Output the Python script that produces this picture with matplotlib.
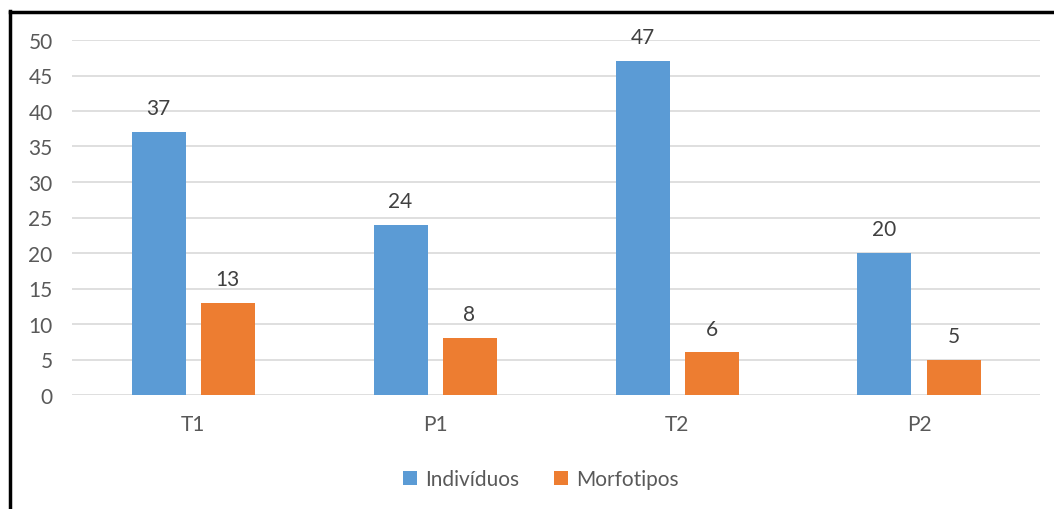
import matplotlib
matplotlib.use("Agg")
import matplotlib.pyplot as plt
from matplotlib.lines import Line2D
import numpy as np

categories = ["T1", "P1", "T2", "P2"]
individuos = [37, 24, 47, 20]
morfotipos = [13, 8, 6, 5]
series_names = ["Indivíduos", "Morfotipos"]
yticks = [0, 5, 10, 15, 20, 25, 30, 35, 40, 45, 50]

plt.rcParams['font.family'] = ['Lato', 'DejaVu Sans']
W, H = 1054, 510
fig = plt.figure(figsize=(W/100, H/100), dpi=100)
ax = fig.add_axes([72/W, 1-396/H, (1040-72)/W, (396-41)/H])

x = np.arange(len(categories))
bw = 54/242
gap = 15/242
blue = "#5B9BD5"
orange = "#ED7D31"
txt = "#595959"
fs = 15
b1 = ax.bar(x - (bw+gap)/2, individuos, bw, color=blue, label=series_names[0], zorder=3)
b2 = ax.bar(x + (bw+gap)/2, morfotipos, bw, color=orange, label=series_names[1], zorder=3)
for bars in (b1, b2):
    ax.bar_label(bars, padding=10, fontsize=fs, color="#404040")

ax.set_xlim(-0.5, 3.5)
ax.set_ylim(0, 50)
ax.set_yticks(yticks)
ax.set_xticks(x)
ax.set_xticklabels(categories)
ax.tick_params(axis='both', length=0, labelsize=fs, labelcolor=txt)
ax.tick_params(axis='y', pad=14)
ax.tick_params(axis='x', pad=14)
ax.grid(axis='y', color="#D9D9D9", linewidth=1.2, zorder=0)
for s in ax.spines.values():
    s.set_visible(False)

leg = fig.legend(handles=[b1, b2], labels=series_names, loc='center',
                 bbox_to_anchor=(541/W, 1-480/H), ncol=2, frameon=False,
                 fontsize=fs, handlelength=0.65, handleheight=0.65,
                 handletextpad=0.4, columnspacing=1.7)
for t in leg.get_texts():
    t.set_color(txt)

# chart border (left and top visible)
fig.add_artist(Line2D([10/W, 10/W], [0, 1-12/H], transform=fig.transFigure, color="black", linewidth=2.5))
fig.add_artist(Line2D([10/W, 1], [1-13/H, 1-13/H], transform=fig.transFigure, color="black", linewidth=2.5))

fig.savefig("out.png", dpi=100)
